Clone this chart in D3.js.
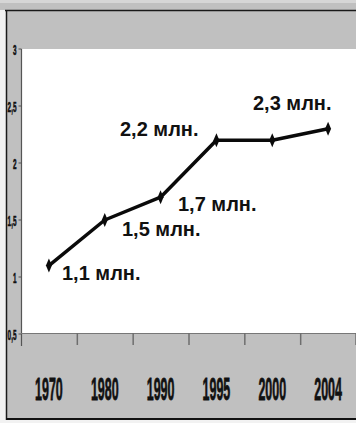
<!DOCTYPE html>
<html>
<head>
<meta charset="utf-8">
<script src="https://cdn.jsdelivr.net/npm/d3@7"></script>
<style>
  html, body { margin: 0; padding: 0; background: #fff; }
  svg { display: block; }
</style>
</head>
<body>
<script>
// Population growth, millions
const years = ["1970", "1980", "1990", "1995", "2000", "2004"];
const values = [1.1, 1.5, 1.7, 2.2, 2.2, 2.3];
const valueLabels = ["1,1 млн.", "1,5 млн.", "1,7 млн.", "2,2 млн.", "2,2 млн.", "2,3 млн."];
const yTicks = [0.5, 1, 1.5, 2, 2.5, 3];
const yTickLabels = ["0,5", "1", "1,5", "2", "2,5", "3"];

const W = 356, H = 423;
const svg = d3.select("body").append("svg").attr("width", W).attr("height", H);
const font = "Liberation Sans, Arial, sans-serif";

// chart frame
svg.append("rect").attr("x", 0).attr("y", 0).attr("width", W).attr("height", H).attr("fill", "#f2f2f2");
svg.append("rect").attr("x", 0).attr("y", 0).attr("width", W).attr("height", 3).attr("fill", "#d6d6d6");
svg.append("rect").attr("x", 0).attr("y", 3).attr("width", W).attr("height", 7).attr("fill", "#c0c0c0");
svg.append("rect").attr("x", 6).attr("y", 10).attr("width", W - 6).attr("height", 409).attr("fill", "#c0c0c0");
svg.append("line").attr("x1", 5).attr("x2", W).attr("y1", 10.5).attr("y2", 10.5).attr("stroke", "#1a1a1a").attr("stroke-width", 1.5);
svg.append("line").attr("x1", 6.5).attr("x2", 6.5).attr("y1", 10).attr("y2", 420).attr("stroke", "#1a1a1a").attr("stroke-width", 1.5);
svg.append("line").attr("x1", 6).attr("x2", W).attr("y1", 419).attr("y2", 419).attr("stroke", "#111").attr("stroke-width", 2);

const x = d3.scaleBand().domain(years).range([21, 356]);
const y = d3.scaleLinear().domain([0.5, 3]).range([334, 49]);

// plot area
svg.append("rect")
  .attr("x", x.range()[0]).attr("y", y(3))
  .attr("width", x.range()[1] - x.range()[0]).attr("height", y(0.5) - y(3))
  .attr("fill", "#fff");

// y axis
const yAxis = svg.append("g");
yAxis.append("line").attr("x1", 21.5).attr("x2", 21.5).attr("y1", y(3)).attr("y2", 346)
  .attr("stroke", "#555").attr("stroke-width", 1.2);
yAxis.selectAll("line.tick").data(yTicks).join("line").attr("class", "tick")
  .attr("x1", 18.5).attr("x2", 21.5)
  .attr("y1", d => y(d)).attr("y2", d => y(d))
  .attr("stroke", "#555");
yAxis.selectAll("text").data(yTicks).join("text")
  .attr("transform", d => `translate(16.5,${y(d) + 5.5}) scale(0.8,1.9)`)
  .attr("text-anchor", "end")
  .attr("font-family", font)
  .attr("font-weight", "bold").attr("font-size", 8).attr("fill", "#111")
  .attr("stroke", "#111").attr("stroke-width", 0.3)
  .text((d, i) => yTickLabels[i]);

// x axis
const xAxis = svg.append("g");
xAxis.append("line").attr("x1", 21).attr("x2", 356).attr("y1", 333.5).attr("y2", 333.5)
  .attr("stroke", "#777").attr("stroke-width", 1.2);
const bounds = years.map(d => x(d)).concat([x.range()[1] - 0.5]);
xAxis.selectAll("line.tick").data(bounds.slice(1)).join("line").attr("class", "tick")
  .attr("x1", d => d + 0.5).attr("x2", d => d + 0.5)
  .attr("y1", 333).attr("y2", 345)
  .attr("stroke", "#6e6e6e").attr("stroke-width", 1.5);
xAxis.selectAll("text").data(years).join("text")
  .attr("transform", d => `translate(${x(d) + x.bandwidth() / 2},400) scale(0.78,2)`)
  .attr("text-anchor", "middle")
  .attr("font-family", font)
  .attr("font-weight", "bold").attr("font-size", 16).attr("fill", "#111")
  .attr("stroke", "#111").attr("stroke-width", 0.4)
  .text(d => d);

// series line
const pts = years.map((d, i) => [x(d) + x.bandwidth() / 2, y(values[i])]);
svg.append("path")
  .attr("d", d3.line()(pts))
  .attr("fill", "none").attr("stroke", "#0a0a0a").attr("stroke-width", 3.5)
  .attr("stroke-linejoin", "round");

// markers
svg.selectAll("path.marker").data(pts).join("path").attr("class", "marker")
  .attr("d", d => `M${d[0]},${d[1] - 7}L${d[0] + 3},${d[1]}L${d[0]},${d[1] + 7}L${d[0] - 3},${d[1]}Z`)
  .attr("fill", "#0a0a0a");

// value labels (left edge, baseline)
const labelPos = [[62, 280], [122, 236], [178, 211], [120, 136], null, [253, 110]];
svg.selectAll("text.val").data(values.map((v, i) => i).filter(i => labelPos[i])).join("text")
  .attr("class", "val")
  .attr("x", i => labelPos[i][0]).attr("y", i => labelPos[i][1])
  .attr("font-family", font)
  .attr("font-weight", "bold").attr("font-size", 20).attr("fill", "#111")
  .text(i => valueLabels[i]);
</script>
</body>
</html>
